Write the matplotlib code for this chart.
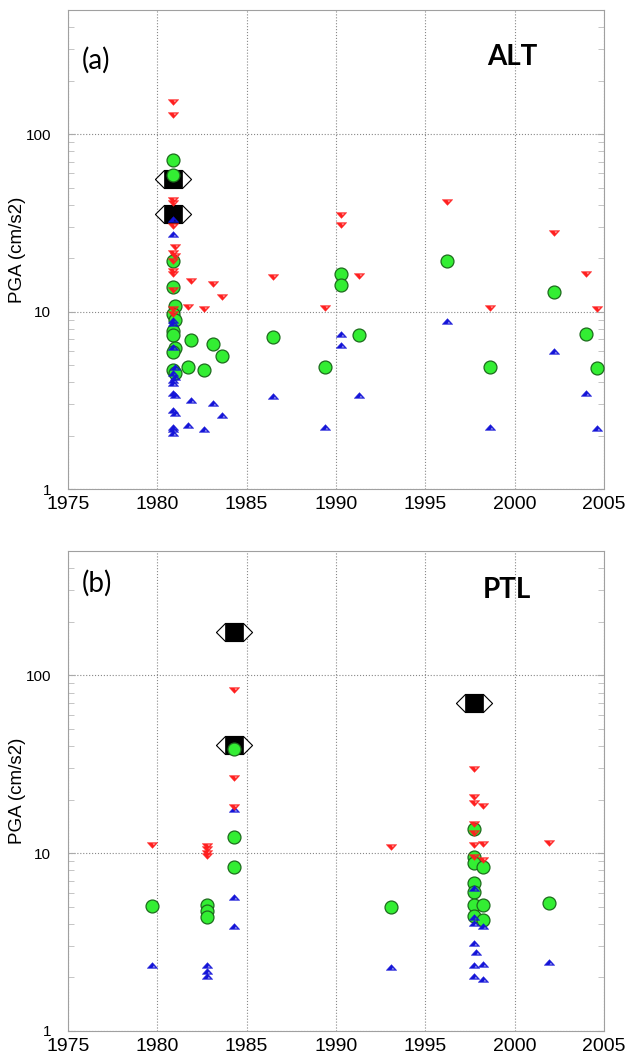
import numpy as np
import matplotlib
matplotlib.use('Agg')
import matplotlib.pyplot as plt
from matplotlib.path import Path
from matplotlib.ticker import FixedLocator, LogLocator, NullFormatter, FuncFormatter

# ---- data ----
# (a) ALT
alt_red_year = [1980.9, 1980.9, 1980.9, 1980.9, 1980.9, 1981.0, 1980.9, 1981.0, 1980.9, 1980.9,
                1980.9, 1980.9, 1980.9, 1980.9, 1981.9, 1983.1, 1983.6, 1981.7, 1982.6, 1986.5,
                1989.4, 1990.3, 1990.3, 1991.3, 1996.2, 1998.6, 2002.2, 2004.0, 2004.6]
alt_red_pga = [151, 128, 42.5, 41, 30.5, 23.2, 21.4, 20.7, 19.3, 17.0,
               16.3, 13.3, 10.3, 9.7, 14.9, 14.3, 12.1, 10.6, 10.3, 15.7,
               10.5, 35.0, 30.7, 15.9, 41.6, 10.5, 27.8, 16.3, 10.3]

alt_green_year = [1980.9, 1980.9, 1980.9, 1980.9, 1981.0, 1980.9, 1981.0, 1980.9, 1980.9, 1981.0,
                  1980.9, 1980.9, 1981.0, 1981.9, 1983.1, 1983.6, 1981.7, 1982.6, 1986.5, 1989.4,
                  1990.3, 1990.3, 1991.3, 1996.2, 1998.6, 2002.2, 2004.0, 2004.6]
alt_green_pga = [71.4, 58.8, 19.3, 13.8, 10.8, 9.75, 9.0, 7.8, 7.4, 6.2,
                 5.9, 4.7, 4.5, 6.9, 6.6, 5.6, 4.9, 4.7, 7.2, 4.85,
                 16.3, 14.2, 7.35, 19.3, 4.85, 12.9, 7.5, 4.78]

alt_blue_year = [1980.9, 1980.9, 1980.9, 1980.9, 1980.9, 1981.0, 1980.9, 1981.0, 1980.9, 1980.9,
                 1980.9, 1981.0, 1980.9, 1981.0, 1980.9, 1980.9, 1980.9, 1981.9, 1983.1, 1983.6,
                 1981.7, 1982.6, 1986.5, 1989.4, 1990.3, 1990.3, 1991.3, 1996.2, 1998.6, 2002.2,
                 2004.0, 2004.6]
alt_blue_pga = [33.3, 27.4, 9.0, 8.6, 6.35, 4.9, 4.5, 4.26, 4.1, 3.94,
                3.5, 3.4, 2.78, 2.67, 2.23, 2.17, 2.06, 3.16, 3.04, 2.6,
                2.29, 2.17, 3.33, 2.23, 7.5, 6.5, 3.37, 8.9, 2.23, 5.96,
                3.5, 2.2]

alt_sq_year = [1980.9, 1980.9]
alt_sq_pga = [55.9, 35.5]

# (b) PTL
ptl_red_year = [1979.7, 1982.8, 1982.8, 1982.8, 1982.8, 1984.3, 1984.3, 1984.3, 1993.1, 1997.75,
                1997.75, 1997.75, 1997.75, 1997.75, 1997.75, 1997.75, 1998.25, 1998.25, 1998.25, 2001.9]
ptl_red_pga = [11.1, 10.9, 10.6, 10.0, 9.6, 82.4, 26.5, 18.1, 10.8, 29.6,
               20.6, 19.1, 14.6, 13.0, 11.1, 9.5, 18.4, 11.2, 9.1, 11.4]

ptl_green_year = [1979.7, 1982.8, 1982.8, 1982.8, 1984.3, 1984.3, 1984.3, 1993.1, 1997.75, 1997.75,
                  1997.75, 1997.75, 1997.75, 1997.75, 1997.75, 1998.25, 1998.25, 1998.25, 2001.9]
ptl_green_pga = [5.04, 5.1, 4.7, 4.37, 38.3, 12.3, 8.35, 4.98, 13.6, 9.5,
                 8.8, 6.8, 6.05, 5.1, 4.42, 8.4, 5.1, 4.2, 5.24]

ptl_blue_year = [1979.7, 1982.8, 1982.8, 1982.8, 1984.3, 1984.3, 1984.3, 1993.1, 1997.75, 1997.75,
                 1997.75, 1997.75, 1997.85, 1997.75, 1997.75, 1998.25, 1998.25, 1998.25, 2001.9]
ptl_blue_pga = [2.35, 2.35, 2.17, 2.04, 17.7, 5.66, 3.89, 2.29, 6.35, 4.37,
                4.05, 3.12, 2.78, 2.35, 2.04, 3.89, 2.38, 1.96, 2.44]

ptl_sq_year = [1984.3, 1984.3, 1997.75]
ptl_sq_pga = [174, 40.4, 69.6]

x_ticks = [1975, 1980, 1985, 1990, 1995, 2000, 2005]
y_ticks = [1, 10, 100]

# ---- marker shapes ----
M, L, C = Path.MOVETO, Path.LINETO, Path.CLOSEPOLY
tri_down = Path([(-1, 0.55), (1, 0.55), (0, -0.55), (-1, 0.55),
                 (0.0, 0.4), (0.25, 0.02), (0.6, 0.4), (0.0, 0.4)],
                [M, L, L, C, M, L, L, C])
tri_up = Path([(-1, -0.55), (1, -0.55), (0, 0.55), (-1, -0.55),
               (0.0, -0.4), (0.25, -0.02), (0.6, -0.4), (0.0, -0.4)],
              [M, L, L, C, M, L, L, C])
hexa = [(-2, 0), (-1, 1), (1, 1), (2, 0), (1, -1), (-1, -1), (-2, 0)]

RED = '#ff1f1f'
BLUE = '#1414d8'
GREEN = '#33ee33'
GREEN_EDGE = '#1d6b1d'

plt.rcParams['font.family'] = ['Liberation Sans', 'DejaVu Sans']

fig = plt.figure(figsize=(6.25, 10.62), dpi=100)
ax1 = fig.add_axes([0.1088, 0.5395, 0.8576, 0.4510])
ax2 = fig.add_axes([0.1088, 0.0292, 0.8576, 0.4520])


def draw_panel(ax, red, green, blue, sq, tag, name, tag_y, name_pos):
    ax.plot(sq[0], sq[1], ls='none', marker=hexa, ms=26, mfc='white', mec='black', mew=0.8, zorder=3)
    ax.plot(sq[0], sq[1], ls='none', marker='s', ms=13, mfc='black', mec='black', mew=0.5, zorder=4)
    ax.plot(green[0], green[1], ls='none', marker='o', ms=9.3, mfc=GREEN, mec=GREEN_EDGE, mew=0.9, zorder=5)
    ax.plot(blue[0], blue[1], ls='none', marker=tri_up, ms=7.5, mfc=BLUE, mec=BLUE, mew=0.3, zorder=6)
    ax.plot(red[0], red[1], ls='none', marker=tri_down, ms=7.5, mfc=RED, mec=RED, mew=0.3, zorder=7)

    ax.set_yscale('log')
    ax.set_xlim(1975, 2005)
    ax.set_ylim(1, 500)
    ax.xaxis.set_major_locator(FixedLocator(x_ticks))
    ax.yaxis.set_major_locator(FixedLocator(y_ticks))
    ax.yaxis.set_major_formatter(FuncFormatter(lambda v, p: '%g' % v))
    ax.yaxis.set_minor_locator(LogLocator(base=10, subs=np.arange(2, 10)))
    ax.yaxis.set_minor_formatter(NullFormatter())
    ax.grid(True, which='major', ls=':', color='#888888', lw=0.8)
    ax.tick_params(axis='x', which='major', direction='in', length=0, labelsize=14, pad=5)
    ax.tick_params(axis='y', which='major', direction='in', length=5, left=True, right=True,
                   color='#aaaaaa', labelsize=11, pad=12)
    ax.tick_params(axis='y', which='minor', direction='in', length=4, left=True, right=True,
                   color='#bbbbbb')
    for s in ax.spines.values():
        s.set_color('#a0a0a0')
        s.set_linewidth(0.8)
    ax.set_ylabel('PGA (cm/s2)', fontsize=13.5, labelpad=0)
    ax.text(0.026, tag_y, tag, transform=ax.transAxes, fontsize=20, family='Lato',
            ha='left', va='center')
    ax.text(name_pos[0], name_pos[1], name, transform=ax.transAxes, fontsize=20, family='Lato',
            fontweight='bold', ha='center', va='center')


draw_panel(ax1, (alt_red_year, alt_red_pga), (alt_green_year, alt_green_pga),
           (alt_blue_year, alt_blue_pga), (alt_sq_year, alt_sq_pga),
           '(a)', 'ALT', 0.896, (0.828, 0.902))
draw_panel(ax2, (ptl_red_year, ptl_red_pga), (ptl_green_year, ptl_green_pga),
           (ptl_blue_year, ptl_blue_pga), (ptl_sq_year, ptl_sq_pga),
           '(b)', 'PTL', 0.933, (0.819, 0.919))

fig.savefig('out.png', dpi=100)
